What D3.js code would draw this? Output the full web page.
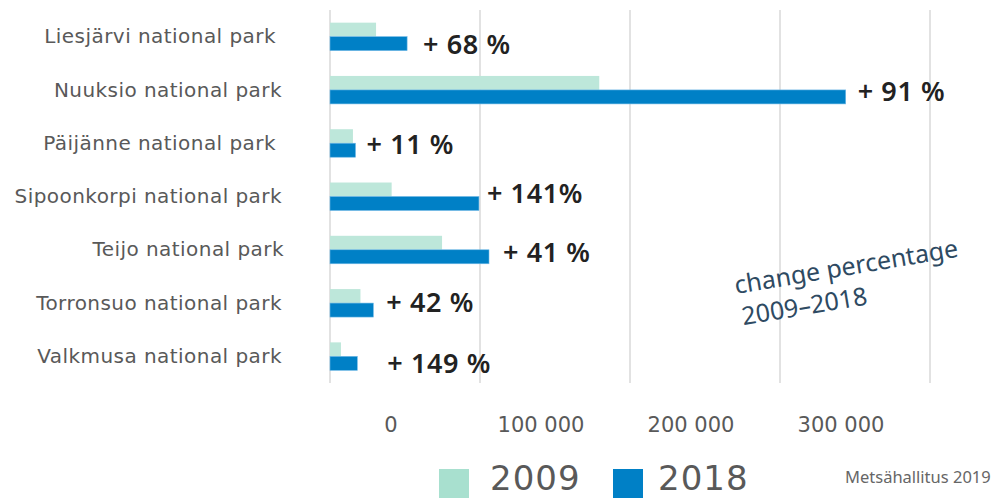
<!DOCTYPE html>
<html>
<head>
<meta charset="utf-8">
<script src="https://cdn.jsdelivr.net/npm/d3@7"></script>
<style>
  body { margin: 0; background: #fff; }
  .cat { font-family: "DejaVu Sans", sans-serif; font-size: 20px; fill: #595959; letter-spacing: 0.45px; }
  .tick { font-family: "DejaVu Sans", sans-serif; font-size: 21px; fill: #595959; }
  .pct { font-family: "Noto Sans", sans-serif; font-size: 27px; font-weight: 600; fill: #222; letter-spacing: 0.6px; }
  .note { font-family: "Noto Sans", sans-serif; font-size: 25px; fill: #2e4a62; }
</style>
</head>
<body>
<svg width="993" height="498"></svg>
<script>
var parks = ["Liesjärvi national park", "Nuuksio national park", "Päijänne national park",
  "Sipoonkorpi national park", "Teijo national park", "Torronsuo national park", "Valkmusa national park"];
var visitors2009 = [30700, 179500, 15300, 41100, 74700, 20300, 7300];
var visitors2018 = [51400, 343800, 17000, 99300, 106000, 28900, 18200];
var changeLabels = ["+ 68 %", "+ 91 %", "+ 11 %", "+ 141%", "+ 41 %", "+ 42 %", "+ 149 %"];
var years = ["2009", "2018"];
var tickValues = [0, 100000, 200000, 300000];
var gridValues = [0, 100000, 200000, 300000, 400000];

// little hand nudges for the change labels (dx from bar end, dy from group centre)
var labelDx = [16, 12, 11, 8, 14, 13, 30];
var labelDy = [17, 11, 11, 6, 12, 9, 17];
// park names don't all end at the same x in the original
var nameDx = [-6, 0, -6, 0, 2, 0, 0];

var colors = { "2009": "#bde7da", "2018": "#0080c6" };

var svg = d3.select("svg");

var x = d3.scaleLinear().domain([0, 400000]).range([330, 930]);
var y = d3.scaleBand().domain(parks).range([10, 383]).paddingInner(0.475).paddingOuter(0.2375);
var yInner = d3.scaleBand().domain(years).range([0, y.bandwidth()]);

// gridlines
svg.append("g").selectAll("line")
  .data(gridValues)
  .enter().append("line")
  .attr("x1", function(d) { return x(d); })
  .attr("x2", function(d) { return x(d); })
  .attr("y1", 10).attr("y2", 383)
  .attr("stroke", "#d9d9d9").attr("stroke-width", 1.5);

var rows = parks.map(function(p, i) {
  return { park: p, v2009: visitors2009[i], v2018: visitors2018[i], label: changeLabels[i], i: i };
});

var groups = svg.append("g").selectAll("g")
  .data(rows)
  .enter().append("g")
  .attr("transform", function(d) { return "translate(0," + y(d.park) + ")"; });

groups.append("rect")
  .attr("x", x(0))
  .attr("y", yInner("2009"))
  .attr("width", function(d) { return x(d.v2009) - x(0); })
  .attr("height", yInner.bandwidth())
  .attr("fill", colors["2009"]);

groups.append("rect")
  .attr("x", x(0))
  .attr("y", yInner("2018"))
  .attr("width", function(d) { return x(d.v2018) - x(0); })
  .attr("height", yInner.bandwidth())
  .attr("fill", colors["2018"])
  .attr("stroke", "#6fb8e6").attr("stroke-width", 0.6);

// park names
groups.append("text")
  .attr("class", "cat")
  .attr("x", function(d) { return 282 + nameDx[d.i]; })
  .attr("y", y.bandwidth() / 2)
  .attr("dy", "0.33em")
  .attr("text-anchor", "end")
  .text(function(d) { return d.park; });

// change percentages
groups.append("text")
  .attr("class", "pct")
  .attr("x", function(d) { return x(d.v2018) + labelDx[d.i]; })
  .attr("y", function(d) { return y.bandwidth() / 2 + labelDy[d.i]; })
  .text(function(d) { return d.label; });

// x tick labels (they sit a bit right of their gridlines in the original)
svg.append("g").selectAll("text")
  .data(tickValues)
  .enter().append("text")
  .attr("class", "tick")
  .attr("x", function(d) { return x(d) + 61; })
  .attr("y", 432)
  .attr("text-anchor", "middle")
  .text(function(d) { return d3.format(",")(d).replace(/,/g, " "); });

// legend
var legend = svg.append("g").selectAll("g")
  .data(years)
  .enter().append("g")
  .attr("transform", function(d, i) { return "translate(" + (439 + i * 174) + ",469)"; });

legend.append("rect")
  .attr("width", 30).attr("height", 29)
  .attr("fill", function(d) { return d == "2009" ? "#a8e0cf" : colors[d]; });

legend.append("text")
  .attr("x", function(d, i) { return i ? 45 : 51; })
  .attr("y", 21)
  .style("font-family", "DejaVu Sans, sans-serif")
  .style("font-size", "34px")
  .style("letter-spacing", "1px")
  .style("fill", "#595959")
  .text(function(d) { return d; });

// rotated note
var note = svg.append("g").attr("transform", "translate(736,294) rotate(-9.5)");
note.append("text").attr("class", "note").text("change percentage");
note.append("text").attr("class", "note").attr("y", 32).attr("x", 2).text("2009–2018");

svg.append("text")
  .attr("x", 845).attr("y", 483)
  .style("font-family", "Noto Sans, sans-serif")
  .style("font-size", "16.5px")
  .style("fill", "#666")
  .text("Metsähallitus 2019");
</script>
</body>
</html>
